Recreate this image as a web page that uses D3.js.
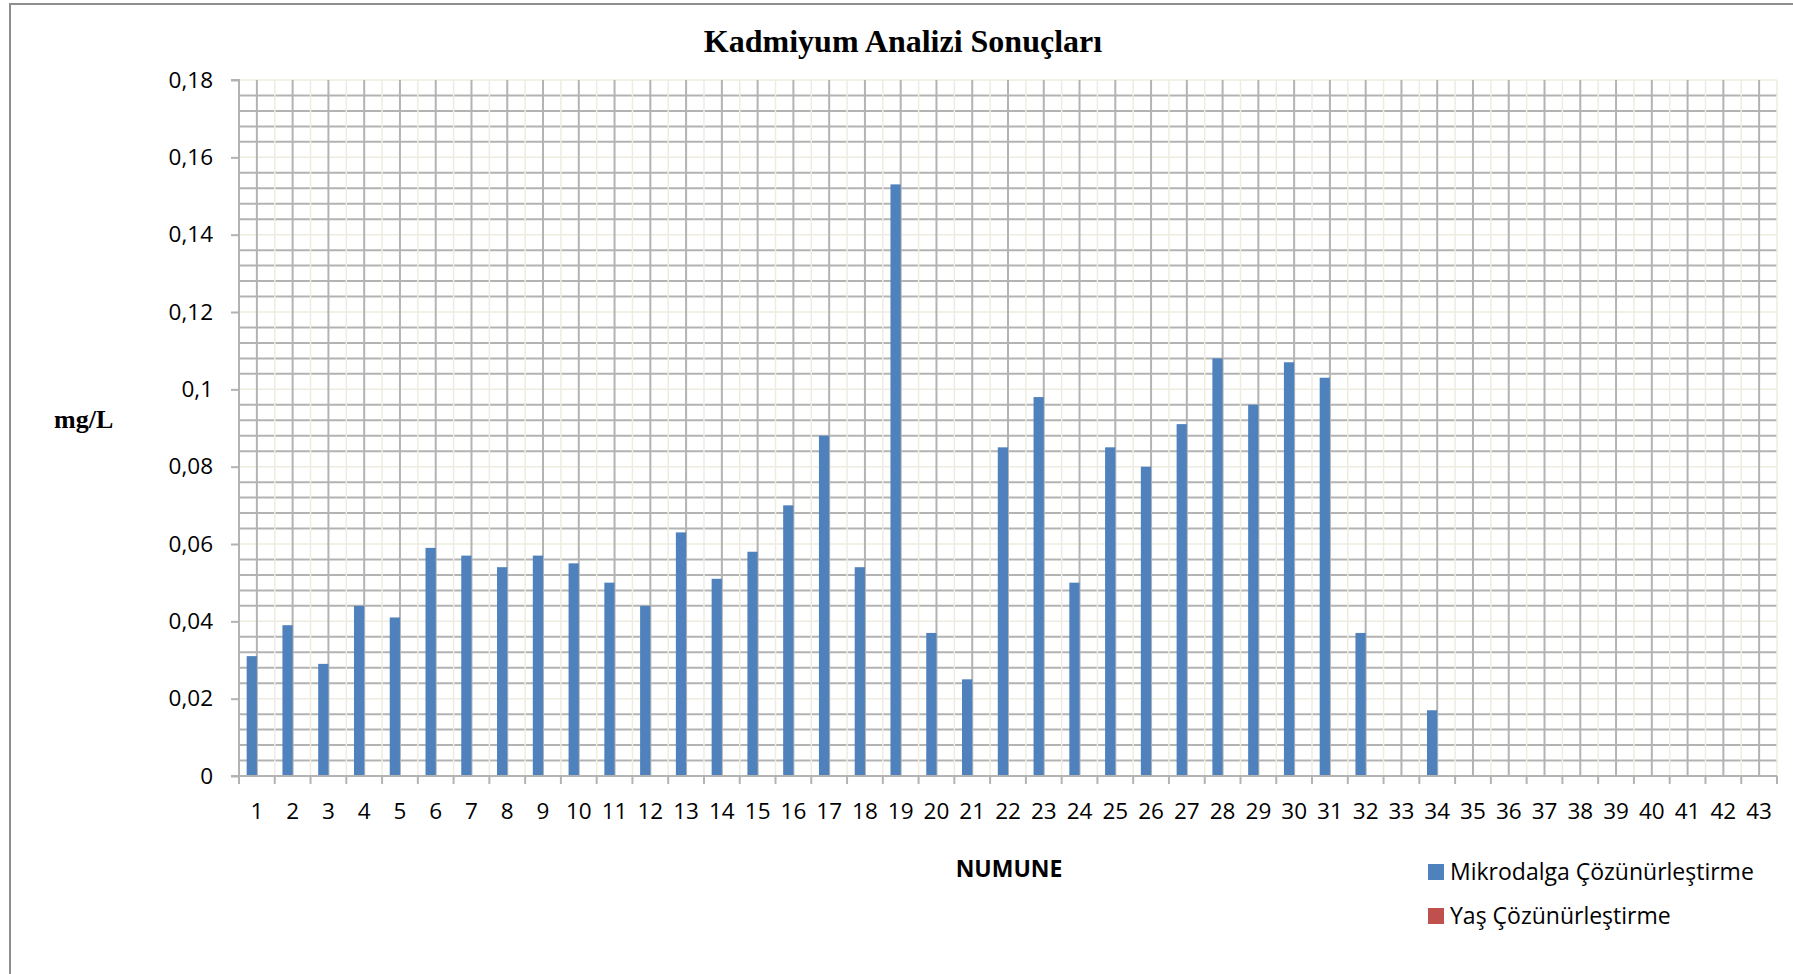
<!DOCTYPE html>
<html>
<head>
<meta charset="utf-8">
<script src="https://cdn.jsdelivr.net/npm/d3@7"></script>
<style>
  html, body { margin: 0; padding: 0; background: #ffffff; }
  svg { display: block; }
</style>
</head>
<body>
<svg id="chart" width="1793" height="974"></svg>
<script>
// ---- data ----
const categories = d3.range(1, 44).map(String);
const seriesNames = ["Mikrodalga Çözünürleştirme", "Yaş Çözünürleştirme"];
const mikrodalga = [0.031, 0.039, 0.029, 0.044, 0.041, 0.059, 0.057, 0.054, 0.057, 0.055,
                    0.050, 0.044, 0.063, 0.051, 0.058, 0.070, 0.088, 0.054, 0.153, 0.037,
                    0.025, 0.085, 0.098, 0.050, 0.085, 0.080, 0.091, 0.108, 0.096, 0.107,
                    0.103, 0.037, null, 0.017, null, null, null, null, null, null,
                    null, null, null];
const yas = categories.map(() => null);
const yTickValues = [0, 0.02, 0.04, 0.06, 0.08, 0.10, 0.12, 0.14, 0.16, 0.18];
const yTickLabels = ["0", "0,02", "0,04", "0,06", "0,08", "0,1", "0,12", "0,14", "0,16", "0,18"];
const minorStep = 0.004;
const titleText = "Kadmiyum Analizi Sonuçları";
const yTitle = "mg/L";
const xTitle = "NUMUNE";
const colors = ["#4f81bd", "#c0504d"];

// ---- layout ----
const svg = d3.select("#chart");
const pLeft = 239, pRight = 1777, pTop = 80, pBottom = 776;
const gray = "#b3b3b3", beige = "#eeece1";
const sans = "'Open Sans', 'Noto Sans', sans-serif";
const serif = "'Liberation Serif', 'DejaVu Serif', serif";

// outer chart border
svg.append("path")
  .attr("d", `M10,974 V4 H1793`)
  .attr("fill", "none").attr("stroke", "#8e8e8e").attr("stroke-width", 2);

const x = d3.scaleBand().domain(categories).range([pLeft, pRight]).paddingInner(0).paddingOuter(0);
const xs = d3.scaleBand().domain(seriesNames).range([0, x.bandwidth()]).paddingInner(0).paddingOuter(0.75);
const y = d3.scaleLinear().domain([0, 0.18]).range([pBottom, pTop]);

const grid = svg.append("g");
// horizontal minor (gray) gridlines
const minorVals = d3.range(1, Math.round(0.18 / minorStep) + 1).map(i => i * minorStep)
  .filter(v => Math.abs(v / 0.02 - Math.round(v / 0.02)) > 1e-6);
grid.selectAll("line.hmin").data(minorVals).join("line")
  .attr("x1", pLeft).attr("x2", pRight)
  .attr("y1", d => y(d)).attr("y2", d => y(d))
  .attr("stroke", gray).attr("stroke-width", 2);
// horizontal major (beige)
grid.selectAll("line.hmaj").data(yTickValues.slice(1)).join("line")
  .attr("x1", pLeft).attr("x2", pRight)
  .attr("y1", d => y(d)).attr("y2", d => y(d))
  .attr("stroke", beige).attr("stroke-width", 1.5);
// vertical beige at category boundaries
const boundaries = categories.slice(1).map(c => x(c)).concat([pRight]);
grid.selectAll("line.vb").data(boundaries).join("line")
  .attr("x1", d => d).attr("x2", d => d)
  .attr("y1", pTop).attr("y2", pBottom)
  .attr("stroke", beige).attr("stroke-width", 1.5);
// vertical gray at category centers
grid.selectAll("line.vc").data(categories).join("line")
  .attr("x1", d => x(d) + x.bandwidth() / 2).attr("x2", d => x(d) + x.bandwidth() / 2)
  .attr("y1", pTop).attr("y2", pBottom)
  .attr("stroke", gray).attr("stroke-width", 2);

// bars
const seriesData = [mikrodalga, yas];
seriesData.forEach((vals, si) => {
  svg.append("g").selectAll("rect")
    .data(categories.map((c, i) => ({ c, v: vals[i] })).filter(d => d.v != null))
    .join("rect")
    .attr("x", d => x(d.c) + xs(seriesNames[si]))
    .attr("width", xs.bandwidth())
    .attr("y", d => y(d.v))
    .attr("height", d => pBottom - y(d.v))
    .attr("fill", colors[si]);
});

// y axis
const yAxis = d3.axisLeft(y).tickValues(yTickValues)
  .tickFormat((d, i) => yTickLabels[i]).tickSize(8).tickPadding(18);
const gy = svg.append("g").attr("transform", `translate(${pLeft},0)`).call(yAxis);
gy.select(".domain").attr("stroke", gray).attr("stroke-width", 2).attr("d", `M-8,${pTop}H0V${pBottom}H-8`);
gy.selectAll(".tick line").attr("stroke", gray).attr("stroke-width", 2);
gy.selectAll(".tick text").attr("font-family", sans).attr("font-size", 22.5).attr("fill", "#000");

// x axis
const xAxis = d3.axisBottom(x).tickSize(0).tickPadding(24);
const gx = svg.append("g").attr("transform", `translate(0,${pBottom})`).call(xAxis);
gx.select(".domain").attr("stroke", gray).attr("stroke-width", 2).attr("d", `M${pLeft},0H${pRight}`);
gx.selectAll(".tick text").attr("font-family", sans).attr("font-size", 22.5).attr("fill", "#000")
  .attr("y", 43).attr("dy", 0);
const allBounds = [pLeft].concat(boundaries);
gx.selectAll("line.bt").data(allBounds).join("line")
  .attr("x1", d => d).attr("x2", d => d)
  .attr("y1", 0).attr("y2", 8).attr("stroke", gray).attr("stroke-width", 2);

// titles
svg.append("text").attr("x", 903).attr("y", 52).attr("text-anchor", "middle")
  .attr("font-family", serif).attr("font-weight", "bold").attr("font-size", 32)
  .attr("fill", "#000").text(titleText);
svg.append("text").attr("x", 54).attr("y", 428)
  .attr("font-family", serif).attr("font-weight", "bold").attr("font-size", 26)
  .attr("fill", "#000").text(yTitle);
svg.append("text").attr("x", 1009).attr("y", 877).attr("text-anchor", "middle")
  .attr("font-family", sans).attr("font-weight", "bold").attr("font-size", 23)
  .attr("fill", "#000").text(xTitle);

// legend
const leg = svg.append("g");
seriesNames.forEach((name, i) => {
  const ly = 864 + i * 44;
  leg.append("rect").attr("x", 1428).attr("y", ly).attr("width", 16).attr("height", 16).attr("fill", colors[i]);
  leg.append("text").attr("x", 1450).attr("y", ly + 16)
    .attr("font-family", sans).attr("font-size", 23).attr("fill", "#000").text(name);
});
</script>
</body>
</html>
